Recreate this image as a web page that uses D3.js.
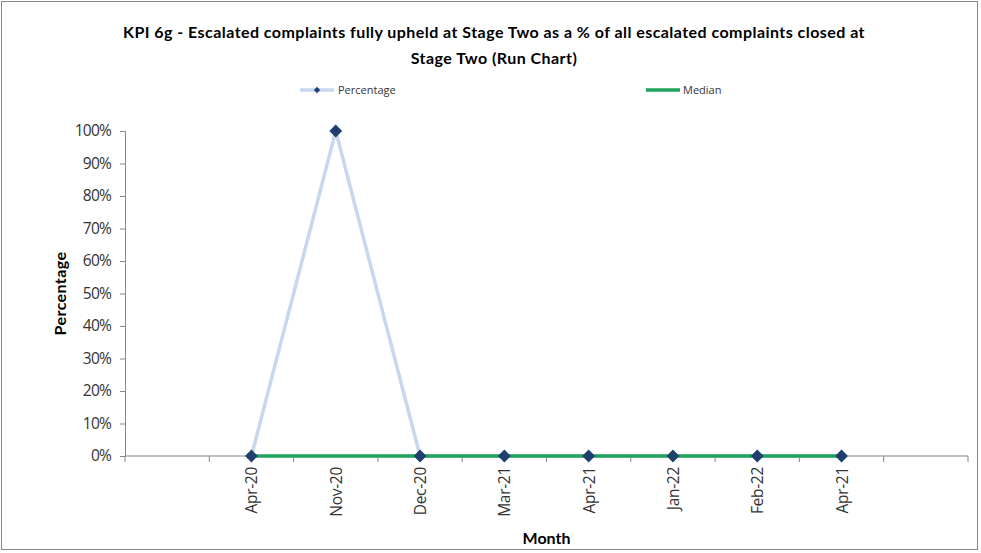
<!DOCTYPE html>
<html>
<head>
<meta charset="utf-8">
<script src="https://cdn.jsdelivr.net/npm/d3@7"></script>
<style>
  body { margin: 0; background: #fff; }
  svg { font-family: Lato, "Open Sans", sans-serif; }
</style>
</head>
<body>
<div id="chart"></div>
<script>
// category slots along the x axis (first and last are empty)
var months = ["", "Apr-20", "Nov-20", "Dec-20", "Mar-21", "Apr-21", "Jan-22", "Feb-22", "Apr-21", ""];
var percentage = [null, 0, 100, 0, 0, 0, 0, 0, 0, null];
var median = [null, 0, 0, 0, 0, 0, 0, 0, 0, null];
var yTicks = [0, 10, 20, 30, 40, 50, 60, 70, 80, 90, 100];

var width = 981, height = 553;
var margin = {left: 125, right: 13, top: 131, bottom: 97};

var svg = d3.select('#chart').append('svg')
    .attr('width', width)
    .attr('height', height);

svg.append('rect')
    .attr('x', 1.5).attr('y', 1.5)
    .attr('width', width - 5).attr('height', height - 5)
    .attr('fill', '#fff')
    .attr('stroke', '#888');

var x = d3.scaleBand()
    .domain(d3.range(months.length))
    .range([margin.left, width - margin.right]);

var y = d3.scaleLinear()
    .domain([0, 100])
    .range([height - margin.bottom, margin.top]);

function cx(i) { return x(i) + x.bandwidth() / 2; }

// title
var title = svg.append('text')
    .attr('text-anchor', 'middle')
    .attr('font-weight', 'bold')
    .attr('font-size', 16)
    .attr('letter-spacing', '0.45')
    .attr('fill', '#000');
title.append('tspan').attr('x', 494).attr('y', 38)
    .text('KPI 6g - Escalated complaints fully upheld at Stage Two as a % of all escalated  complaints closed at');
title.append('tspan').attr('x', 494).attr('y', 64)
    .text('Stage Two (Run Chart)');

// y axis
var yAxis = d3.axisLeft(y)
    .tickValues(yTicks)
    .tickSize(5)
    .tickFormat(function(d) { return d + '%'; });

var gy = svg.append('g')
    .attr('transform', 'translate(' + margin.left + ',0)')
    .call(yAxis);
gy.selectAll('path, line').attr('stroke', '#868686');
gy.selectAll('text')
    .attr('font-size', 15.5)
    .attr('fill', '#333')
    .attr('x', -14)
    .attr('font-family', '"Open Sans", sans-serif')
    .attr('letter-spacing', '-0.8');

// x axis: tick marks between categories
var gx = svg.append('g')
    .attr('transform', 'translate(0,' + y(0) + ')');
gx.append('line')
    .attr('x1', margin.left).attr('x2', width - margin.right)
    .attr('stroke', '#868686');
gx.selectAll('.sep')
    .data(d3.range(months.length + 1))
    .enter().append('line')
      .attr('class', 'sep')
      .attr('x1', function(i) { return margin.left + i * x.step(); })
      .attr('x2', function(i) { return margin.left + i * x.step(); })
      .attr('y1', 0).attr('y2', 6)
      .attr('stroke', '#868686');
gx.selectAll('.lbl')
    .data(months)
    .enter().append('text')
      .attr('class', 'lbl')
      .attr('transform', function(d, i) { return 'translate(' + (cx(i) + 6) + ',11) rotate(-90)'; })
      .attr('text-anchor', 'end')
      .attr('font-size', 15.5)
      .attr('font-family', '"Open Sans", sans-serif')
      .attr('letter-spacing', '-0.3')
      .attr('fill', '#333')
      .text(function(d) { return d; });

// axis titles
svg.append('text')
    .attr('transform', 'translate(66,' + ((y(0) + y(100)) / 2) + ') rotate(-90)')
    .attr('text-anchor', 'middle')
    .attr('font-weight', 'bold')
    .attr('font-size', 16)
    .attr('letter-spacing', '0.4')
    .text('Percentage');

svg.append('text')
    .attr('x', (margin.left + width - margin.right) / 2)
    .attr('y', 544)
    .attr('text-anchor', 'middle')
    .attr('font-weight', 'bold')
    .attr('font-size', 16)
    .text('Month');

// series
var line = d3.line()
    .defined(function(d) { return d != null; })
    .x(function(d, i) { return cx(i); })
    .y(function(d) { return y(d); });

svg.append('path')
    .datum(percentage)
    .attr('d', line)
    .attr('fill', 'none')
    .attr('stroke', '#c6d7ee')
    .attr('stroke-width', 3.5);

svg.append('path')
    .datum(median)
    .attr('d', line)
    .attr('fill', 'none')
    .attr('stroke', '#1fa35b')
    .attr('stroke-width', 3.5);

var diamond = d3.symbol().type(d3.symbolDiamond2).size(105);

svg.append('g').selectAll('path')
    .data(percentage.map(function(v, i) { return {v: v, i: i}; })
      .filter(function(d) { return d.v != null; }))
    .enter().append('path')
      .attr('d', diamond)
      .attr('transform', function(d) { return 'translate(' + cx(d.i) + ',' + y(d.v) + ')'; })
      .attr('fill', '#1f3f6e');

// legend
var legend = svg.append('g').attr('fill', '#333');
legend.append('line')
    .attr('x1', 300).attr('x2', 334).attr('y1', 90).attr('y2', 90)
    .attr('stroke', '#c6d7ee').attr('stroke-width', 3.5);
legend.append('path')
    .attr('d', d3.symbol().type(d3.symbolDiamond2).size(25))
    .attr('transform', 'translate(317,90)')
    .attr('fill', '#1f3f6e');
legend.append('text').attr('x', 338).attr('y', 94)
    .attr('font-family', '"Open Sans", sans-serif')
    .attr('font-size', 11)
    .text('Percentage');
legend.append('line')
    .attr('x1', 646).attr('x2', 680).attr('y1', 90).attr('y2', 90)
    .attr('stroke', '#1fa35b').attr('stroke-width', 3.5);
legend.append('text').attr('x', 683).attr('y', 94)
    .attr('font-family', '"Open Sans", sans-serif')
    .attr('font-size', 11)
    .text('Median');
</script>
</body>
</html>
